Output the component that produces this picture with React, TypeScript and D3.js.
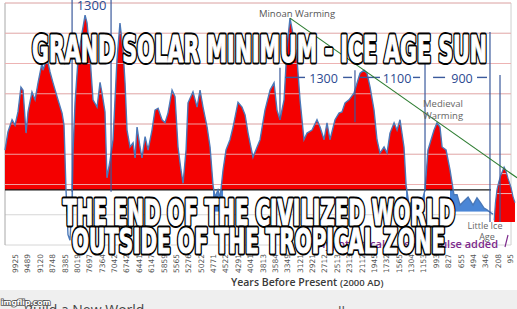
import React from "react";
import * as d3 from "d3";

// ---- data ----
const xLabels = ["9925","9489","9120","8748","8385","8019","7697","7364","7042","6742","6441","6147","5859","5565","5276","5022","4771","4522","4291","4041","3813","3584","3349","3121","2921","2712","2513","2313","2112","1945","1732","1565","1304","1153","993","827","655","494","346","208","95"];

// position along the category axis (label index units) and temperature (°C)
const pos = [-0.81,-0.57,-0.24,0,0.24,0.48,0.65,0.89,1.05,1.37,1.62,1.86,2.18,2.26,2.59,2.83,3.07,3.47,3.8,3.96,4.12,4.28,4.44,4.61,4.69,4.85,5.09,5.41,5.66,5.82,6.06,6.3,6.63,6.87,7.03,7.27,7.43,7.68,7.92,8.24,8.48,8.73,8.89,9.05,9.29,9.54,9.7,9.86,10.1,10.26,10.51,10.75,11.07,11.31,11.56,11.88,12.12,12.36,12.69,12.93,13.17,13.41,13.58,13.82,13.98,14.38,14.71,14.95,15.19,15.52,15.76,16.0,16.16,16.4,16.57,16.81,17.05,17.37,17.62,18.02,18.34,18.59,18.83,19.23,19.56,19.8,20.2,20.61,20.93,21.17,21.41,21.74,21.98,22.22,22.55,22.79,23.03,23.35,23.6,24.0,24.4,24.65,24.97,25.21,25.45,25.86,26.18,26.42,26.67,26.99,27.39,27.64,27.88,28.2,28.44,28.69,29.01,29.25,29.49,29.82,30.06,30.3,30.63,30.87,31.11,31.43,31.6,31.84,32.16,32.48,32.81,33.13,33.37,33.62,33.86,34.1,34.34,34.51,34.83,35.15,35.47,35.72,35.96,36.2,36.61,37.01,37.33,37.58,37.9,38.14,38.46,38.63];
const temp = [-31.43,-31.13,-30.93,-31.02,-30.8,-30.39,-30.44,-31.15,-30.8,-30.47,-30.6,-30.32,-29.99,-30.11,-29.91,-30.14,-30.32,-30.6,-30.82,-31.02,-32.09,-32.83,-32.92,-32.26,-31.43,-30.65,-29.94,-29.5,-29.2,-29.33,-29.89,-30.6,-30.72,-30.31,-30.49,-30.8,-31.89,-31.6,-31.26,-29.94,-29.33,-29.78,-30.32,-31.1,-31.38,-31.31,-31.56,-31.05,-31.38,-31.56,-31.21,-31.43,-31.1,-30.77,-30.74,-30.93,-30.98,-30.82,-30.44,-30.55,-31.38,-31.76,-31.98,-31.43,-30.65,-30.47,-30.72,-30.44,-30.72,-31.05,-31.38,-32.01,-32.21,-32.09,-32.22,-31.76,-31.43,-31.26,-31.05,-30.64,-30.72,-30.85,-31.15,-31.55,-31.38,-31.26,-30.77,-30.44,-30.32,-30.77,-30.93,-30.6,-29.73,-29.25,-29.61,-29.94,-30.6,-31.26,-31.15,-31.1,-30.93,-31.05,-31.26,-30.98,-31.26,-30.93,-30.82,-30.8,-30.65,-30.6,-30.49,-30.32,-30.16,-30.11,-30.16,-30.39,-30.77,-31.26,-31.48,-31.38,-31.48,-31.15,-30.98,-31.1,-30.93,-31.38,-32.01,-32.34,-32.26,-32.22,-32.34,-32.09,-31.43,-31.26,-31.1,-30.98,-31.05,-31.38,-31.43,-31.76,-32.17,-32.17,-32.34,-32.29,-32.21,-32.34,-32.22,-32.29,-32.39,-32.42,-32.47,-32.49];

// "Little Ice Age pulse added" segment
const pulsePos = [38.72,38.82,38.95,39.1,39.25,39.52,39.68,39.84,40.08,40.24,40.4];
const pulseTemp = [-32.59,-32.3,-32.08,-31.95,-31.85,-31.71,-31.78,-31.9,-32.05,-32.2,-32.3];

const gridTemps = [-33,-32.5,-32,-31.5,-31,-30.5,-30,-29.5,-29];
const THRESH = -32.09;
const COLD_BASE = -32.45;
const PULSE_BASE = -32.62;

// cycle marker lines: position, top temp, bottom temp
const cycleMarks = [
  { p: 4.61, t0: -28.9, t1: -32.12 },
  { p: 7.76, t0: -28.9, t1: -32.12 },
  { p: 21.41, t0: -30.07, t1: -30.93 },
  { p: 27.47, t0: -30.11, t1: -30.97 },
  { p: 33.13, t0: -29.91, t1: -32.11 },
  { p: 38.38, t0: -29.48, t1: -32.62 },
  { p: 39.19, t0: -30.19, t1: -32.62 },
];
const cycleLabels = [
  { label: "1300", p: 24.93, dashes: [[21.82, 23.43], [26.51, 27.23]] },
  { label: "1100", p: 30.87, dashes: [[27.88, 29.49], [32.16, 32.73]] },
  { label: "900", p: 36.12, dashes: [[33.78, 34.75], [37.33, 38.14]] },
];
const trend = [ { p: 22.22, t: -29.25 }, { p: 40.57, t: -31.89 } ];

const W = 517, H = 309;

export default function App() {
  const x = d3.scaleLinear().domain([-0.81, 40.24]).range([5, 513]);
  const y = d3.scaleLinear().domain([-33, -29]).range([245, 3]);
  const series = pos.map((p, i) => ({ p, t: temp[i], i }));
  const pulse = pulsePos.map((p, i) => ({ p, t: pulseTemp[i] }));

  const below = (i: number) => i >= 0 && i < temp.length && temp[i] < THRESH;
  const coldDefined = (d: any) => below(d.i) || below(d.i - 1) || below(d.i + 1);

  const line = d3.line<any>().x(d => x(d.p)).y(d => y(d.t));
  const warm = d3.area<any>().x(d => x(d.p)).y0(y(THRESH)).y1(d => y(d.t));
  const cold = d3.area<any>().defined(coldDefined).x(d => x(d.p)).y0(y(COLD_BASE)).y1(d => y(d.t));
  const pulseArea = d3.area<any>().x(d => x(d.p)).y0(y(PULSE_BASE)).y1(d => y(d.t));

  const xL = x(-0.81), xR = x(40.08), xEnd = x(38.63);
  const yT = y(THRESH);
  const markBlue = "#3b5a9c";
  const labelBlue = "#2c4a91";

  const memeFont = "'DejaVu Sans Condensed', 'Liberation Sans Narrow', 'DejaVu Sans', sans-serif";
  const memeOutline: any = {
    fontFamily: memeFont, fontWeight: 700, fontStretch: "condensed",
    fill: "#000", stroke: "#000", strokeWidth: 5, strokeLinejoin: "round",
  };
  const memeFill: any = {
    fontFamily: memeFont, fontWeight: 700, fontStretch: "condensed",
    fill: "#fff", stroke: "#fff", strokeWidth: 1.1, strokeLinejoin: "round",
  };
  const meme = [
    { text: "GRAND SOLAR MINIMUM - ICE AGE SUN", x: 32, y: 62, size: 37, len: 455 },
    { text: "THE END OF THE CIVILIZED WORLD", x: 63, y: 225, size: 35, len: 392 },
    { text: "OUTSIDE OF THE TROPICAL ZONE", x: 72, y: 253, size: 33, len: 373 },
  ];

  return (
    <svg width={W} height={H} style={{ position: "absolute", left: 0, top: 0, background: "#fff" }}>
      <defs>
        <clipPath id="warmClip"><rect x={0} y={0} width={W} height={yT} /></clipPath>
        <clipPath id="coldClip"><rect x={xL} y={yT} width={xEnd - xL} height={y(COLD_BASE) - yT} /></clipPath>
        <clipPath id="pulseClip"><path d={pulseArea(pulse) || ""} /></clipPath>
      </defs>
      <rect x={0} y={0} width={W} height={H} fill="#fff" />

      {/* grid under */}
      {gridTemps.map(g => (
        <line key={"g" + g} x1={xL} x2={xR} y1={y(g)} y2={y(g)} stroke="#d6d6d6" strokeWidth={1} />
      ))}
      <line x1={xL} x2={xL} y1={y(-29)} y2={y(-33)} stroke="#a8a8a8" strokeWidth={1} />
      <line x1={xR} x2={xR} y1={y(-29)} y2={y(-33)} stroke="#cfcfcf" strokeWidth={1} />

      {/* areas */}
      <path d={warm(series) || ""} fill="#f40000" clipPath="url(#warmClip)" />
      <path d={cold(series) || ""} fill="#4a86d6" clipPath="url(#coldClip)" />
      <path d={pulseArea(pulse) || ""} fill="#f40000" />

      {/* grid over the red */}
      {gridTemps.map(g => (
        <line key={"go" + g} x1={xL} x2={xR} y1={y(g)} y2={y(g)} stroke="#f0b0b0" strokeWidth={1} clipPath="url(#warmClip)" opacity={0.9} />
      ))}
      {[-31.82, -32.15].map(g => (
        <line key={"pg" + g} x1={x(38.6)} x2={x(40.4)} y1={y(g)} y2={y(g)} stroke="#f3b4b4" strokeWidth={1} clipPath="url(#pulseClip)" />
      ))}

      {/* threshold line */}
      <line x1={xL} x2={x(38.46)} y1={yT} y2={yT} stroke="#1a1a1a" strokeWidth={1.2} />

      {/* data lines */}
      <path d={line(series) || ""} fill="none" stroke="#4a78b8" strokeWidth={1.4} />
      <path d={line(pulse) || ""} fill="none" stroke="#4a78b8" strokeWidth={1.2} />

      {/* cycle markers */}
      {cycleMarks.map((m, i) => (
        <line key={"m" + i} x1={x(m.p)} x2={x(m.p)} y1={y(m.t0)} y2={y(m.t1)} stroke={markBlue} strokeWidth={1.2} />
      ))}
      <text x={x(6.18)} y={y(-29.12)} textAnchor="middle" fontFamily="'Open Sans', sans-serif" fontSize={13} fill={labelBlue}>1300</text>
      {cycleLabels.map(c => (
        <g key={c.label}>
          <text x={x(c.p)} y={y(-30.32)} textAnchor="middle" fontFamily="'Open Sans', sans-serif" fontSize={12.5} fill={labelBlue}>{c.label}</text>
          {c.dashes.map((d, j) => (
            <line key={j} x1={x(d[0])} x2={x(d[1])} y1={y(-30.23)} y2={y(-30.23)} stroke={markBlue} strokeWidth={1.4} />
          ))}
        </g>
      ))}

      {/* trend line */}
      <line x1={x(trend[0].p)} y1={y(trend[0].t)} x2={x(trend[1].p)} y2={y(trend[1].t)} stroke="#2e7d32" strokeWidth={1.2} />

      {/* annotations */}
      <text x={297} y={17} textAnchor="middle" fontFamily="'Open Sans', sans-serif" fontSize={9.5} fill="#555">Minoan Warming</text>
      <text x={443} y={107} textAnchor="middle" fontFamily="'Open Sans', sans-serif" fontSize={9.5} fill="#666">Medieval</text>
      <text x={443} y={119} textAnchor="middle" fontFamily="'Open Sans', sans-serif" fontSize={9.5} fill="#666">Warming</text>
      <text x={485} y={229} textAnchor="middle" fontFamily="'Open Sans', sans-serif" fontSize={9} fill="#666">Little Ice</text>
      <text x={487} y={240} textAnchor="middle" fontFamily="'Open Sans', sans-serif" fontSize={9} fill="#666">Age</text>
      <text x={385} y={248} textAnchor="end" fontFamily="'Open Sans', sans-serif" fontSize={11} fontWeight={600} fill="#7d2a8c">Hypothetical</text>
      <text x={498} y={248} textAnchor="end" fontFamily="'Open Sans', sans-serif" fontSize={11} fontWeight={600} fill="#7d2a8c">solar pulse added</text>
      <line x1={505} y1={247} x2={508} y2={235} stroke="#7d2a8c" strokeWidth={1.2} />

      {/* x axis labels */}
      {xLabels.map((l, i) => (
        <text key={l} transform={`translate(${x(i) + 3},254) rotate(-90)`} textAnchor="end" fontFamily="'DejaVu Sans', sans-serif" fontSize={7.5} fill="#555">{l}</text>
      ))}
      <text x={231} y={286} fontFamily="'Open Sans', sans-serif" fontWeight={600} fill="#3a3a3a">
        <tspan fontSize={10.5}>Years Before Present </tspan>
        <tspan fontSize={9.5}>(2000 AD)</tspan>
      </text>

      {/* bottom strip */}
      <rect x={0} y={290} width={W} height={19} fill="#efefef" />
      <text x={24} y={315} fontFamily="'Open Sans', sans-serif" fontSize={14} fill="#444">Build a New World</text>
      <text x={338} y={317} fontFamily="'Open Sans', sans-serif" fontSize={14} fill="#555">ll</text>
      <text x={1} y={305} fontFamily="'DejaVu Sans', sans-serif" fontSize={7.5} fontWeight={700} fill="#fff" stroke="#555" strokeWidth={1.6} paintOrder="stroke">imgflip.com</text>

      {/* meme text */}
      {meme.map(m => (
        <g key={m.text}>
          <text x={m.x} y={m.y} fontSize={m.size} textLength={m.len} lengthAdjust="spacingAndGlyphs" style={memeOutline}>{m.text}</text>
          <text x={m.x} y={m.y} fontSize={m.size} textLength={m.len} lengthAdjust="spacingAndGlyphs" style={memeFill}>{m.text}</text>
        </g>
      ))}
    </svg>
  );
}
